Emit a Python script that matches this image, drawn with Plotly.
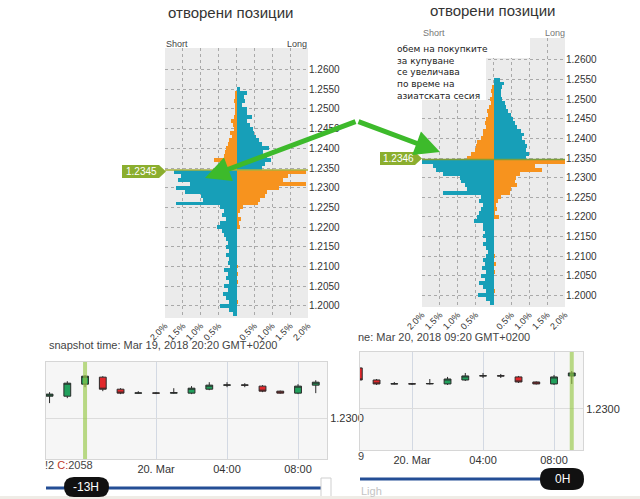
import plotly.graph_objects as go

# ---------------- data ----------------
levels = [1.2550, 1.2540, 1.2530, 1.2520, 1.2510, 1.2500, 1.2490, 1.2480, 1.2470, 1.2460,
          1.2450, 1.2440, 1.2430, 1.2420, 1.2410, 1.2400, 1.2390, 1.2380, 1.2370, 1.2360,
          1.2350, 1.2340, 1.2330, 1.2320, 1.2310, 1.2300, 1.2290, 1.2280, 1.2270, 1.2260,
          1.2250, 1.2240, 1.2230, 1.2220, 1.2210, 1.2200, 1.2190, 1.2180, 1.2170, 1.2160,
          1.2150, 1.2140, 1.2130, 1.2120, 1.2110, 1.2100, 1.2090, 1.2080, 1.2070, 1.2060,
          1.2050, 1.2040, 1.2030, 1.2020, 1.2010, 1.2000, 1.1990, 1.1980]

# snapshot Mar 19 20:20 (percent of positions)
mar19_long = [0.10, 0.28, 0.22, 0.25, 0.15, 0.28, 0.30, 0.42, 0.30, 0.38,
              0.45, 0.50, 0.55, 0.62, 0.70, 0.92, 0.75, 0.85, 0.96, 0.80,
              0.70, 1.95, 1.45, 1.30, 1.95, 1.20, 0.85, 0.80, 0.65, 0.60,
              0.18, 0.10, 0.05, 0.12, 0.08, 0.10, 0.00, 0.00, 0.00, 0.00,
              0.00, 0.00, 0.00, 0.00, 0.00, 0.04, 0.00, 0.05, 0.00, 0.04,
              0.00, 0.00, 0.00, 0.00, 0.04, 0.00, 0.00, 0.00]
mar19_short = [0.00, 0.02, 0.04, 0.08, 0.03, 0.05, 0.02, 0.08, 0.15, 0.10,
               0.08, 0.18, 0.12, 0.22, 0.25, 0.30, 0.33, 0.35, 0.62, 0.45,
               0.50, 1.75, 1.55, 1.65, 1.30, 1.70, 1.45, 1.00, 0.95, 1.70,
               0.45, 0.35, 0.40, 0.30, 0.45, 0.55, 0.40, 0.35, 0.30, 0.25,
               0.30, 0.22, 0.28, 0.20, 0.25, 0.18, 0.35, 0.25, 0.30, 0.20,
               0.35, 0.25, 0.38, 0.30, 0.20, 0.45, 0.20, 0.10]
mar19_price = 1.2345

# snapshot Mar 20 09:20
mar20_long = [0.18, 0.30, 0.25, 0.20, 0.22, 0.25, 0.32, 0.35, 0.40, 0.50,
              0.55, 0.60, 0.65, 0.78, 0.85, 0.80, 0.88, 0.95, 0.92, 1.00,
              0.90, 2.00, 1.15, 1.35, 0.75, 0.62, 0.60, 0.65, 0.50, 0.45,
              0.20, 0.12, 0.06, 0.10, 0.05, 0.15, 0.00, 0.00, 0.00, 0.00,
              0.00, 0.00, 0.00, 0.00, 0.00, 0.05, 0.00, 0.06, 0.00, 0.05,
              0.00, 0.00, 0.00, 0.00, 0.05, 0.00, 0.00, 0.00]
mar20_short = [0.00, 0.00, 0.05, 0.08, 0.04, 0.10, 0.08, 0.12, 0.18, 0.15,
               0.20, 0.25, 0.22, 0.30, 0.28, 0.35, 0.45, 0.50, 0.52, 0.62,
               0.73, 2.00, 1.70, 1.60, 1.40, 0.95, 0.90, 0.80, 0.75, 1.40,
               0.36, 0.40, 0.30, 0.35, 0.40, 0.45, 0.55, 0.30, 0.28, 0.25,
               0.30, 0.20, 0.28, 0.22, 0.15, 0.20, 0.30, 0.25, 0.32, 0.20,
               0.35, 0.25, 0.40, 0.30, 0.22, 0.42, 0.20, 0.10]
mar20_price = 1.2346

price_ticks = [1.2000, 1.2050, 1.2100, 1.2150, 1.2200, 1.2250, 1.2300,
               1.2350, 1.2400, 1.2450, 1.2500, 1.2550, 1.2600]
pct_ticks = [-2.0, -1.5, -1.0, -0.5, 0.0, 0.5, 1.0, 1.5, 2.0]
pct_labels = ["2.0%", "1.5%", "1.0%", "0.5%", "", "0.5%", "1.0%", "1.5%", "2.0%"]

# hourly candles EUR/USD
hours = ["2018-03-19 18:00", "2018-03-19 19:00", "2018-03-19 20:00", "2018-03-19 21:00",
         "2018-03-19 22:00", "2018-03-19 23:00", "2018-03-20 00:00", "2018-03-20 01:00",
         "2018-03-20 02:00", "2018-03-20 03:00", "2018-03-20 04:00", "2018-03-20 05:00",
         "2018-03-20 06:00", "2018-03-20 07:00", "2018-03-20 08:00", "2018-03-20 09:00"]
c_open = [1.23244, 1.23244, 1.23378, 1.23456, 1.23322, 1.23278, 1.23280, 1.23278,
          1.23278, 1.23322, 1.23367, 1.23369, 1.23356, 1.23300, 1.23278, 1.23367]
c_high = [1.23289, 1.23411, 1.23478, 1.23467, 1.23333, 1.23300, 1.23289, 1.23333,
          1.23356, 1.23400, 1.23400, 1.23389, 1.23367, 1.23306, 1.23378, 1.23422]
c_low = [1.23167, 1.23222, 1.23344, 1.23300, 1.23267, 1.23272, 1.23267, 1.23272,
         1.23267, 1.23311, 1.23344, 1.23344, 1.23289, 1.23272, 1.23267, 1.23278]
c_close = [1.23267, 1.23389, 1.23467, 1.23322, 1.23278, 1.23280, 1.23278, 1.23283,
           1.23333, 1.23367, 1.23369, 1.23367, 1.23300, 1.23278, 1.23356, 1.23400]
time_ticks = ["2018-03-20 00:00", "2018-03-20 04:00", "2018-03-20 08:00"]
time_labels = ["20. Mar", "04:00", "08:00"]

# ---------------- styling ----------------
W, H = 640, 499
BLUE = "#179fb8"
ORANGE = "#f7931e"
FONT = "Liberation Sans, Arial, sans-serif"


def px(x):
    return x / W


def py(y):
    return 1 - y / H


fig = go.Figure()


def add_book(longs, shorts, price, xa, ya):
    long_cols = [BLUE if lv > price else ORANGE for lv in levels]
    short_cols = [ORANGE if lv > price else BLUE for lv in levels]
    fig.add_trace(go.Bar(y=levels, x=longs, orientation="h", width=0.001,
                         marker=dict(color=long_cols, line=dict(width=0)),
                         xaxis=xa, yaxis=ya, showlegend=False))
    fig.add_trace(go.Bar(y=levels, x=[-s for s in shorts], orientation="h", width=0.001,
                         marker=dict(color=short_cols, line=dict(width=0)),
                         xaxis=xa, yaxis=ya, showlegend=False))


add_book(mar19_long, mar19_short, mar19_price, "x", "y")
add_book(mar20_long, mar20_short, mar20_price, "x2", "y2")

for xa, ya in (("x3", "y3"), ("x4", "y4")):
    fig.add_trace(go.Candlestick(
        x=hours, open=c_open, high=c_high, low=c_low, close=c_close,
        xaxis=xa, yaxis=ya, showlegend=False, whiskerwidth=0,
        increasing=dict(fillcolor="#21a05c", line=dict(color="#2a2a2a", width=1)),
        decreasing=dict(fillcolor="#e2272b", line=dict(color="#2a2a2a", width=1))))

hist_x = dict(range=[-2.0, 2.0], tickvals=pct_ticks, ticktext=pct_labels, tickangle=-45,
              showgrid=True, gridcolor="#a9a9a9", griddash="dot", gridwidth=1,
              zeroline=False, showline=False, ticks="", automargin=False,
              tickfont=dict(family=FONT, size=9, color="#333"), fixedrange=True)
hist_y = dict(range=[1.19693, 1.26546], tickvals=price_ticks, tickformat=".4f",
              side="right", showgrid=True, gridcolor="#a9a9a9", griddash="dot",
              zeroline=False, showline=False, ticks="", automargin=False,
              tickfont=dict(family=FONT, size=10, color="#333"))
cand_x = dict(type="date", tickvals=time_ticks, ticktext=time_labels,
              showgrid=True, gridcolor="#d3d9e3", zeroline=False,
              showline=True, mirror=True, linecolor="#d6d6d6", ticks="",
              rangeslider=dict(visible=False), automargin=False,
              tickfont=dict(family=FONT, size=11, color="#333"))
cand_y = dict(range=[1.22544, 1.23625], tickvals=[1.2300], ticktext=["1.2300"],
              side="right", showgrid=True, gridcolor="#dcdcdc", zeroline=False,
              showline=True, mirror=True, linecolor="#d6d6d6", ticks="", automargin=False,
              tickfont=dict(family=FONT, size=11, color="#333"))

fig.update_layout(
    template="none",
    width=W, height=H, autosize=False,
    margin=dict(l=0, r=0, t=0, b=0, pad=0, autoexpand=False),
    paper_bgcolor="white", plot_bgcolor="rgba(0,0,0,0)",
    barmode="overlay", bargap=0, boxgap=0.45,
    xaxis=dict(hist_x, domain=[px(165), px(308)], anchor="y"),
    yaxis=dict(hist_y, domain=[py(318), py(48)], anchor="x"),
    xaxis2=dict(hist_x, domain=[px(422), px(565)], anchor="y2"),
    yaxis2=dict(hist_y, range=[1.19699, 1.26561], domain=[py(307), py(38)], anchor="x2"),
    xaxis3=dict(cand_x, domain=[px(46), px(327)], anchor="y3",
                range=["2018-03-19 17:48", "2018-03-20 09:38"]),
    yaxis3=dict(cand_y, domain=[py(459), py(362)], anchor="x3"),
    xaxis4=dict(cand_x, domain=[px(360), px(583)], anchor="y4",
                range=["2018-03-19 21:04", "2018-03-20 09:38"]),
    yaxis4=dict(cand_y, range=[1.22544, 1.23633], domain=[py(450), py(352)], anchor="x4"),
    font=dict(family=FONT),
    showlegend=False,
)

shapes = []
# plot backgrounds
for xr, yr, col in (("x", "y", "#ebebeb"), ("x2", "y2", "#ebebeb"),
                    ("x3", "y3", "#f6f6f6"), ("x4", "y4", "#f6f6f6")):
    shapes.append(dict(type="rect", xref=xr + " domain", yref=yr + " domain",
                       x0=0, x1=1, y0=0, y1=1, fillcolor=col, line=dict(width=0), layer="below"))
# white note box over right book
shapes.append(dict(type="rect", xref="paper", yref="paper", x0=px(418), x1=px(486),
                   y0=py(100), y1=py(34), fillcolor="white", line=dict(width=0), layer="above"))
shapes.append(dict(type="rect", xref="paper", yref="paper", x0=px(486), x1=px(530),
                   y0=py(58), y1=py(34), fillcolor="white", line=dict(width=0), layer="above"))
# current price lines
shapes.append(dict(type="line", xref="x", yref="y", x0=-2, x1=2, y0=mar19_price, y1=mar19_price,
                   line=dict(color="#a9b23e", width=1.5), layer="above"))
shapes.append(dict(type="line", xref="x2", yref="y2", x0=-2, x1=2, y0=mar20_price, y1=mar20_price,
                   line=dict(color="#7e9e3a", width=1.5), layer="above"))


def tag_path(x0, x1, tip, yc, h=13):
    t, b = yc - h / 2, yc + h / 2
    return (f"M {px(x0)} {py(t)} L {px(x1)} {py(t)} L {px(tip)} {py(yc)} "
            f"L {px(x1)} {py(b)} L {px(x0)} {py(b)} Z")


shapes.append(dict(type="path", xref="paper", yref="paper", path=tag_path(122, 159, 166, 171.5),
                   fillcolor="#8bae2e", line=dict(width=0), layer="above"))
shapes.append(dict(type="path", xref="paper", yref="paper", path=tag_path(380, 415, 422, 158.5),
                   fillcolor="#8bae2e", line=dict(width=0), layer="above"))
# highlighted candles
shapes.append(dict(type="line", xref="x3", yref="y3 domain", x0=hours[2], x1=hours[2], y0=0, y1=1,
                   line=dict(color="rgba(150,200,70,0.65)", width=4), layer="above"))
shapes.append(dict(type="line", xref="x4", yref="y4 domain", x0=hours[15], x1=hours[15], y0=0, y1=1,
                   line=dict(color="rgba(150,200,70,0.65)", width=4), layer="above"))
# sliders
shapes.append(dict(type="line", xref="paper", yref="paper", x0=px(46), x1=px(326), y0=py(488), y1=py(488),
                   line=dict(color="#244e95", width=3)))
shapes.append(dict(type="line", xref="paper", yref="paper", x0=px(360), x1=px(545), y0=py(479), y1=py(479),
                   line=dict(color="#244e95", width=3)))


def pill(x0, x1, y0, y1):
    r = (y1 - y0) / 2
    return (f"M {px(x0 + r)} {py(y0)} L {px(x1 - r)} {py(y0)} "
            f"Q {px(x1)} {py(y0)} {px(x1)} {py(y0 + r)} Q {px(x1)} {py(y1)} {px(x1 - r)} {py(y1)} "
            f"L {px(x0 + r)} {py(y1)} Q {px(x0)} {py(y1)} {px(x0)} {py(y0 + r)} "
            f"Q {px(x0)} {py(y0)} {px(x0 + r)} {py(y0)} Z")


shapes.append(dict(type="rect", xref="paper", yref="paper", x0=px(321), x1=px(331), y0=py(499), y1=py(478),
                   fillcolor="white", line=dict(color="#cfcfcf", width=1)))
shapes.append(dict(type="rect", xref="paper", yref="paper", x0=0, x1=1, y0=0, y1=py(496),
                   fillcolor="#efece6", line=dict(width=0)))
shapes.append(dict(type="path", xref="paper", yref="paper", path=pill(64, 109, 477, 497),
                   fillcolor="#111", line=dict(width=0)))
shapes.append(dict(type="path", xref="paper", yref="paper", path=pill(540, 584, 468, 490),
                   fillcolor="#111", line=dict(width=0)))
fig.update_layout(shapes=shapes)

ann = []


def text(x, y, s, size=11, color="#333", xanchor="left", **kw):
    ann.append(dict(x=px(x), y=py(y), xref="paper", yref="paper", text=s, showarrow=False,
                    xanchor=xanchor, yanchor="middle", font=dict(family=FONT, size=size, color=color),
                    borderpad=0, **kw))


text(230, 12, "отворени позиции", size=15, color="#333", xanchor="center")
text(492, 10, "отворени позиции", size=15, color="#333", xanchor="center")
text(165, 44, "Short", size=9, color="#444")
text(308, 44, "Long", size=9, color="#444", xanchor="right")
text(422, 33, "Short", size=9, color="#777")
text(566, 33, "Long", size=9, color="#777", xanchor="right")
text(141, 171.5, "1.2345", size=10, color="white", xanchor="center")
text(398, 158.5, "1.2346", size=10, color="white", xanchor="center")
ann.append(dict(x=px(395), y=py(42), xref="paper", yref="paper", showarrow=False,
                xanchor="left", yanchor="top", align="left",
                text="обем на покупките<br>за купуване<br>се увеличава<br>по време на<br>азиатската сесия",
                font=dict(family="DejaVu Sans, sans-serif", size=9, color="#222")))
text(48, 345, "snapshot time: Mar 19, 2018 20:20 GMT+0200", size=11, color="#444")
text(357, 337, "ne: Mar 20, 2018 09:20 GMT+0200", size=11, color="#444")
text(44, 465, "!2 <span style='color:#c0392b'>C:</span>2058", size=11, color="#444")
text(357, 456, "9", size=11, color="#444")
text(86, 487, "-13H", size=12, color="white", xanchor="center")
text(562, 479, "0H", size=12, color="white", xanchor="center")
text(360, 491, "Ligh", size=11, color="#c4c4c4")
# big green arrows
for hx, hy in ((205, 178), (440, 152)):
    ann.append(dict(x=px(hx), y=py(hy), xref="paper", yref="paper", text="", showarrow=True,
                    ax=357 - hx, ay=121 - hy, arrowhead=2, arrowsize=1, arrowwidth=5,
                    arrowcolor="#3dba2b", standoff=0, startstandoff=0))
fig.update_layout(annotations=ann)

fig.write_html("out.html", config={"displayModeBar": False},
               post_script="document.body.style.margin='0px';document.body.style.overflow='hidden';")
